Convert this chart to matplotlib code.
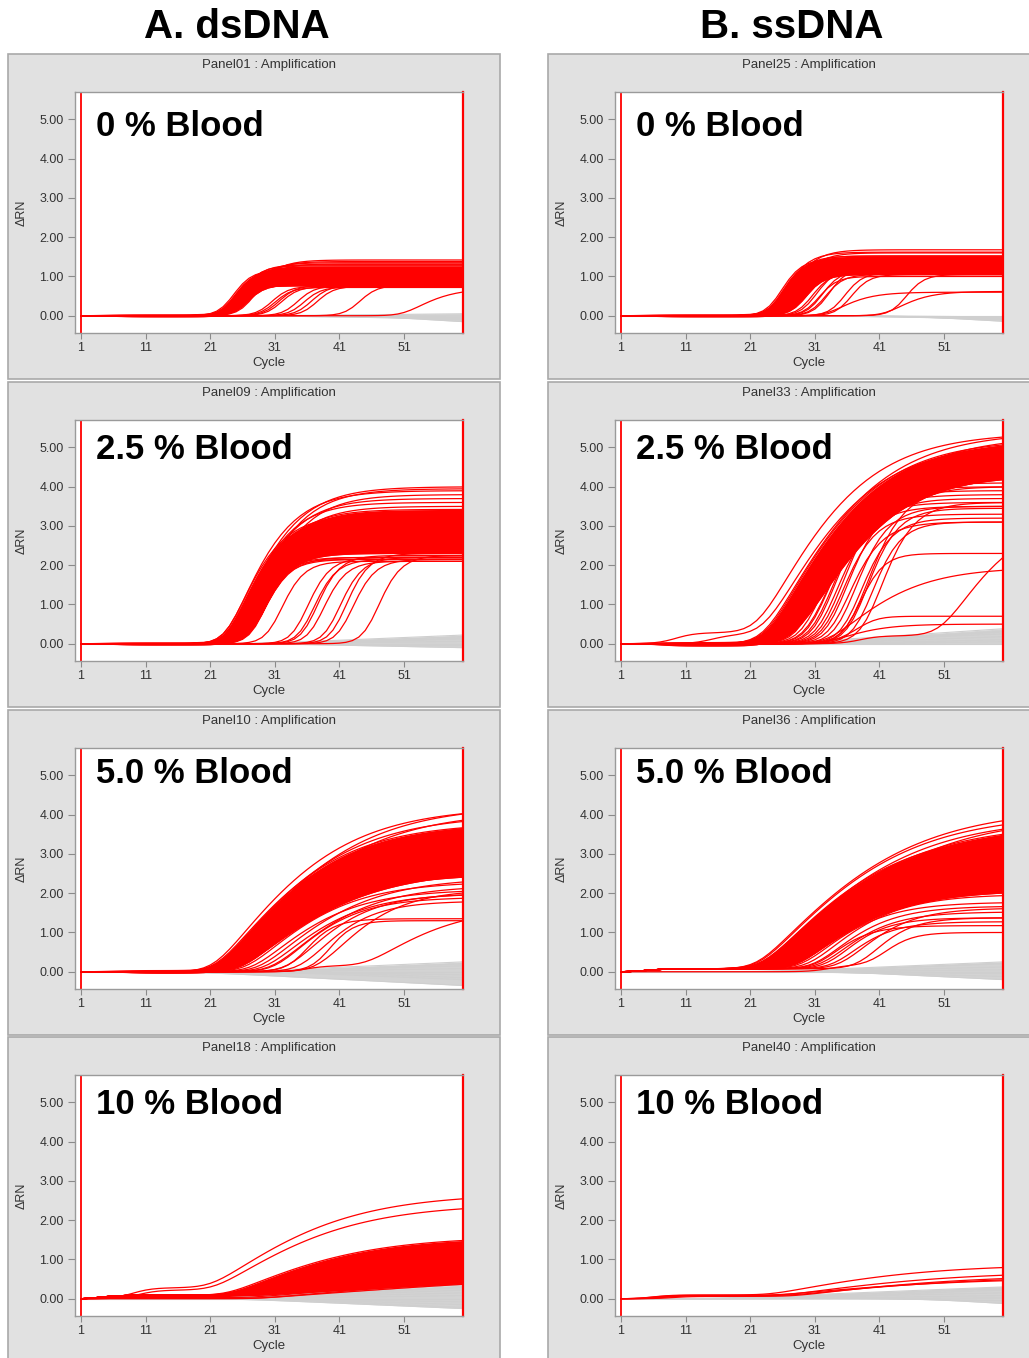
import numpy as np
import matplotlib
matplotlib.use('Agg')
import matplotlib.pyplot as plt
from matplotlib.patches import Rectangle

plt.rcParams['font.family'] = ['Liberation Sans', 'DejaVu Sans']

#---------------------------------------DATA----------------------------------------#

CYCLES = np.arange(1, 61)
X_TICKS = [1, 11, 21, 31, 41, 51]
Y_TICKS = [0, 1, 2, 3, 4, 5]

COLUMN_TITLES = ['A. dsDNA', 'B. ssDNA']
BLOOD_LABELS = ['0 % Blood', '2.5 % Blood', '5.0 % Blood', '10 % Blood']
PANEL_NAMES = [['Panel01', 'Panel09', 'Panel10', 'Panel18'],
               ['Panel25', 'Panel33', 'Panel36', 'Panel40']]

# amplified wells: (onset cycle, plateau dRn, rise scale) or
# (onset cycle, plateau dRn, rise scale, early baseline step, step cycle)
# *_BAND = the dense bundle, *_SPARSE = single visible curves
# non amplified wells: (cycle where drift starts, dRn at cycle 60)

DS_00_BAND = [(23.5, 1.15, 3.0), (23.8, 1.05, 2.8), (24.0, 1.20, 3.2), (24.0, 0.95, 2.8),
              (24.3, 1.10, 3.0), (24.5, 1.25, 3.4, 0.025, 5), (24.5, 0.85, 2.6), (24.8, 1.00, 3.0),
              (25.0, 1.18, 3.2), (25.0, 0.80, 2.8, -0.03, 6), (25.2, 1.08, 3.0), (25.5, 0.92, 3.0),
              (25.5, 1.22, 3.4), (25.8, 0.78, 2.8), (26.0, 1.02, 3.2), (26.0, 0.88, 3.0),
              (24.6, 0.76, 2.6), (25.3, 0.98, 3.0)]
DS_00_SPARSE = [(24.2, 1.30, 3.8), (25.0, 1.35, 4.2), (25.5, 1.38, 4.4), (25.8, 1.42, 4.6),
                (26.5, 1.32, 4.0), (29.5, 0.75, 2.8), (30.0, 0.72, 2.8), (30.5, 0.78, 3.0),
                (31.0, 0.74, 2.8), (33.5, 0.76, 2.8), (34.5, 0.73, 2.8), (35.5, 0.78, 3.0),
                (36.5, 0.75, 2.8), (43.0, 0.78, 3.0), (51.0, 0.70, 7.0)]
DS_00_GRAY = [(30, 0.05), (32, 0.02), (30, -0.03), (35, -0.06), (28, -0.08), (40, -0.10), (45, -0.15)]

SS_00_BAND = [(24.5, 1.45, 3.5), (24.8, 1.35, 3.5), (25.0, 1.52, 3.9), (25.3, 1.25, 3.5),
              (25.5, 1.50, 3.9, 0.025, 5), (25.7, 1.40, 3.7), (26.0, 1.30, 3.7), (26.3, 1.15, 3.5),
              (26.5, 1.45, 3.9), (26.7, 1.20, 3.7), (27.0, 1.35, 3.9), (27.3, 1.10, 3.5),
              (27.5, 1.25, 3.7, -0.03, 6), (27.7, 1.50, 4.1), (28.0, 1.05, 3.5), (28.3, 1.15, 3.7),
              (24.7, 1.20, 3.3), (25.5, 1.08, 3.3)]
SS_00_SPARSE = [(24.8, 1.62, 4.3), (25.6, 1.68, 4.5), (26.5, 1.60, 4.1), (29.5, 1.10, 3.0),
                (30.0, 1.20, 3.2), (30.5, 1.00, 3.0), (31.0, 1.15, 3.0), (31.5, 1.05, 3.0),
                (32.0, 1.25, 3.2), (34.5, 1.10, 3.0), (35.5, 1.05, 3.0), (44.0, 1.05, 3.0),
                (33.0, 0.60, 6.0), (42.0, 0.62, 6.0)]
SS_00_GRAY = [(35, 0.0), (30, -0.05), (40, -0.10), (45, -0.14), (32, -0.08), (38, -0.03)]

DS_25_BAND = [(23.5, 3.3, 8.0), (23.8, 3.0, 7.5), (24.0, 2.6, 6.5), (24.3, 3.2, 8.0),
              (24.5, 3.4, 8.5, 0.025, 5), (24.8, 2.8, 7.0), (25.0, 3.1, 7.5), (25.3, 2.6, 6.5),
              (25.5, 3.3, 8.0), (25.8, 2.9, 7.0, -0.035, 6), (26.0, 2.4, 6.0), (26.3, 2.7, 6.5),
              (26.5, 3.2, 7.5), (26.8, 2.5, 6.0), (27.0, 3.0, 7.0), (27.3, 2.3, 5.5),
              (27.5, 2.8, 6.5), (25.6, 3.0, 7.0)]
DS_25_SPARSE = [(23.5, 3.9, 9.5), (24.0, 4.0, 10.0), (24.5, 3.7, 9.0), (25.0, 3.95, 9.5),
                (25.5, 3.5, 8.5), (26.0, 3.8, 9.0), (24.3, 3.6, 8.5), (27.5, 2.2, 5.0),
                (26.5, 2.2, 5.0), (27.0, 2.15, 5.0), (28.0, 2.15, 4.0), (30.5, 2.10, 4.0),
                (34.5, 2.20, 4.0), (35.5, 2.15, 4.0), (36.0, 2.25, 4.0), (37.0, 2.10, 4.0),
                (39.5, 2.20, 4.0), (40.5, 2.30, 4.0), (41.5, 2.15, 4.0), (45.5, 2.25, 4.0)]
DS_25_GRAY = [(28, 0.22), (30, 0.18), (32, 0.12), (30, 0.06), (35, 0.0), (33, -0.05), (30, -0.10), (38, 0.15)]

SS_25_BAND = [(23.3, 5.2, 17), (23.5, 5.0, 16.5), (23.8, 5.1, 17.5), (24.0, 4.9, 16),
              (24.2, 5.1, 17, 0.03, 5), (24.5, 4.8, 16), (24.8, 5.2, 17.5), (25.0, 4.7, 16),
              (25.2, 5.0, 17), (25.5, 4.6, 16), (25.8, 4.9, 17, -0.06, 7), (26.0, 4.5, 16),
              (26.3, 4.8, 17), (26.5, 4.4, 16), (26.8, 4.7, 17), (27.0, 4.35, 16.5),
              (27.5, 4.5, 17), (26.2, 4.3, 16), (24.7, 4.4, 15.5), (23.6, 4.6, 15.5)]
SS_25_SPARSE = [(23.0, 5.4, 18), (24.4, 5.3, 18), (25.3, 5.25, 18),
                (22.0, 5.1, 17, 0.28, 9.5), (23.0, 4.9, 17, 0.22, 15),
                (28.5, 4.2, 9), (29.0, 4.0, 8), (29.5, 3.8, 8), (30.0, 4.5, 10),
                (30.5, 3.6, 7), (31.0, 4.1, 8), (31.5, 3.9, 7), (32.0, 3.5, 6.5),
                (32.5, 4.3, 8), (33.0, 3.3, 6), (33.5, 3.7, 6.5), (34.0, 3.1, 6),
                (35.0, 3.5, 6), (36.0, 3.2, 5.5), (36.5, 4.0, 7), (37.0, 3.45, 5.5),
                (38.0, 3.1, 5), (39.0, 3.6, 6), (36.5, 2.3, 4.0), (33.0, 1.95, 14.0),
                (50.5, 3.0, 12.0, 0.2, 38), (37.0, 0.5, 3.0, 0.2, 35), (33.0, 0.5, 8.0)]
SS_25_GRAY = [(25, 0.38), (28, 0.32), (26, 0.25), (30, 0.18), (30, 0.10), (35, 0.05), (30, 0.0), (32, 0.30)]

DS_50_BAND = [(21.8, 3.8, 19), (22.0, 3.7, 19.5), (22.2, 3.6, 19), (22.5, 3.8, 19.5),
              (22.8, 3.5, 18.5), (23.0, 3.7, 20, 0.03, 6), (23.2, 3.4, 19), (23.5, 3.6, 20),
              (23.8, 3.2, 19), (24.0, 3.5, 20, -0.04, 8), (24.2, 3.0, 19), (24.5, 3.3, 20),
              (24.8, 2.9, 19.5), (25.0, 3.1, 20), (25.3, 2.7, 19.5), (25.5, 2.6, 20),
              (23.7, 2.8, 17), (22.4, 3.0, 16), (24.3, 2.5, 18), (25.8, 2.8, 20)]
DS_50_SPARSE = [(21.5, 4.2, 20), (22.6, 4.25, 21), (23.4, 4.1, 21), (22.0, 4.0, 20),
                (24.6, 3.9, 21), (26.5, 2.3, 16), (27.5, 2.1, 15), (28.5, 2.4, 17),
                (29.5, 2.0, 14), (30.5, 2.2, 15), (31.0, 1.9, 12), (33.0, 2.0, 12),
                (34.0, 1.35, 5), (35.0, 1.8, 10), (38.0, 1.3, 4), (37.5, 2.1, 12),
                (45.0, 1.5, 15, 0.15, 36)]
DS_50_GRAY = [(25, 0.25), (30, 0.20), (28, 0.15), (30, 0.08), (30, 0.0), (33, -0.08),
              (35, -0.15), (30, -0.20), (18, -0.35)]

SS_50_BAND = [(22.6, 3.7, 23), (23.0, 3.6, 22), (23.3, 3.5, 22), (23.6, 3.4, 21.5),
              (24.0, 3.7, 23), (24.3, 3.3, 21), (24.6, 3.5, 22), (25.0, 3.2, 21),
              (25.3, 3.3, 22), (25.6, 3.0, 20), (26.0, 2.9, 20), (26.3, 2.7, 19),
              (26.6, 2.5, 18), (23.2, 3.2, 20), (24.8, 2.8, 19), (22.8, 3.55, 21),
              (25.8, 3.6, 23), (23.8, 2.9, 19), (26.8, 3.1, 21), (27.0, 2.3, 17),
              (27.5, 2.1, 17), (28.0, 2.0, 16)]
SS_50_SPARSE = [(22.0, 4.1, 24), (22.3, 3.95, 23), (24.4, 3.9, 24), (23.0, 3.85, 23),
                (27.5, 2.2, 16), (28.5, 2.0, 14), (29.0, 1.7, 12), (30.0, 1.9, 13),
                (31.0, 1.6, 11), (32.0, 1.45, 10), (33.0, 1.3, 8), (34.0, 1.2, 8),
                (35.0, 1.55, 10), (31.5, 1.1, 7), (38.0, 1.3, 7), (40.0, 0.85, 5, 0.15, 33)]
SS_50_GRAY = [(24, 0.25), (26, 0.20), (28, 0.12), (30, 0.05), (30, 0.0), (33, -0.05),
              (30, -0.12), (35, -0.20), (28, 0.22)]

DS_10_BAND = [(23.5, 1.5, 22), (24.0, 1.45, 23), (24.5, 1.4, 24), (25.0, 1.35, 25),
              (25.5, 1.3, 26), (26.0, 1.25, 27), (26.5, 1.2, 28), (27.0, 1.15, 30),
              (27.5, 1.1, 32), (28.0, 1.05, 34), (28.5, 1.0, 36), (29.0, 0.95, 38),
              (29.5, 0.9, 40), (30.0, 0.85, 42), (24.2, 1.3, 22), (25.2, 1.2, 24),
              (26.2, 1.1, 26), (27.2, 1.0, 28), (28.2, 0.9, 30), (29.2, 0.8, 33),
              (23.8, 1.0, 20), (25.8, 1.45, 28), (27.8, 1.35, 32), (30.5, 0.75, 40),
              (28.0, 0.75, 60, 0.0, 1), (29.0, 0.8, 55, 0.02, 1), (27.0, 0.7, 50, 0.04, 2)]
DS_10_SPARSE = [(21.0, 2.4, 22, 0.28, 9), (21.5, 2.2, 22, 0.22, 10)]
DS_10_GRAY = [(22, 0.35), (24, 0.30), (25, 0.22), (25, 0.15), (27, 0.08), (28, 0.0),
              (28, -0.08), (30, -0.15), (30, -0.22), (25, -0.25), (26, 0.28)]

SS_10_BAND = []
SS_10_SPARSE = [(24.0, 0.78, 25, 0.10, 6), (26.0, 0.62, 28, 0.08, 7), (27.0, 0.50, 30, 0.08, 8),
                (27.5, 0.55, 28, 0.06, 9), (25.0, 0.45, 30, 0.09, 6)]
SS_10_GRAY = [(15, 0.30), (20, 0.28), (25, 0.22), (20, 0.15), (25, 0.08), (30, 0.02),
              (40, -0.05), (48, -0.12), (18, 0.25)]

# column, row, dense band, single curves, non amplified, shared baseline step, onset smoothing
PANELS = [
    (0, 0, DS_00_BAND, DS_00_SPARSE, DS_00_GRAY, (0.0, 1), 1.2),
    (0, 1, DS_25_BAND, DS_25_SPARSE, DS_25_GRAY, (0.0, 1), 1.2),
    (0, 2, DS_50_BAND, DS_50_SPARSE, DS_50_GRAY, (0.0, 1), 1.5),
    (0, 3, DS_10_BAND, DS_10_SPARSE, DS_10_GRAY, (0.1, 4), 1.5),
    (1, 0, SS_00_BAND, SS_00_SPARSE, SS_00_GRAY, (0.0, 1), 1.2),
    (1, 1, SS_25_BAND, SS_25_SPARSE, SS_25_GRAY, (0.0, 1), 1.5),
    (1, 2, SS_50_BAND, SS_50_SPARSE, SS_50_GRAY, (0.08, 5), 1.5),
    (1, 3, SS_10_BAND, SS_10_SPARSE, SS_10_GRAY, (0.0, 1), 1.5),
]

#---------------------------------------CURVES----------------------------------------#

def softplus(z, k):
    return k * np.logaddexp(0, z / k)

def amp_curve(t0, plateau, tau, base, tb, k):
    y = plateau * np.tanh(softplus(CYCLES - t0, k) / tau)
    y = y + base / (1 + np.exp(-(CYCLES - tb) / 1.5))
    return y - y[0]

def build(curves, panel_base, k):
    out = []
    for c in curves:
        if len(c) == 5:
            t0, plateau, tau, b, tb = c
        else:
            t0, plateau, tau = c
            b, tb = panel_base
        out.append(amp_curve(t0, plateau, tau, b, tb, k))
    return np.array(out)

def drift_curve(start, end):
    r = softplus(CYCLES - start, 3.0)
    return end * r / r[-1]

#---------------------------------------LAYOUT----------------------------------------#

W, H = 1029, 1358
fig = plt.figure(figsize=(W / 100, H / 100), dpi=100)
fig.patch.set_facecolor('white')

def fx(px):
    return px / W

def fy(py):
    return 1 - py / H

COL_LEFT = [8, 548]
ROW_TOP = [54, 382, 710, 1037]
FRAME_W, FRAME_H = 492, 325
AX_W, AX_H = 388, 241
LABEL_DROP = [44, 39, 35, 39]   # baseline of blood label below axes top

for i, t in enumerate(COLUMN_TITLES):
    fig.text(fx([237, 792][i]), fy(38), t, fontsize=29, fontweight='bold',
             ha='center', va='baseline')

for col, row, band, sparse, gray, pbase, k in PANELS:
    x0, y0 = COL_LEFT[col], ROW_TOP[row]
    fig.add_artist(Rectangle((fx(x0), fy(y0 + FRAME_H)), FRAME_W / W, FRAME_H / H,
                             transform=fig.transFigure, facecolor='#e1e1e1',
                             edgecolor='#a9a9a9', lw=1.2, zorder=0))
    axl, axt = x0 + 67, y0 + 38
    ax = fig.add_axes([fx(axl), fy(axt + AX_H), AX_W / W, AX_H / H])
    ax.set_xlim(0.07, 60.13)
    ax.set_ylim(-0.44, 5.70)

    # non amplified wells
    gys = np.array([drift_curve(s, e) for s, e in gray])
    ax.fill_between(CYCLES, gys.min(axis=0), gys.max(axis=0), color='#d3d3d3', lw=0)
    for g in gys:
        ax.plot(CYCLES, g, color='#cfcfcf', lw=0.8)

    # amplified wells
    if len(band):
        bys = build(band, pbase, k)
        ax.fill_between(CYCLES, bys.min(axis=0), bys.max(axis=0), color='#ff0000', lw=0)
        for b in bys:
            ax.plot(CYCLES, b, color='#ff0000', lw=0.9)
    for s in build(sparse, pbase, k):
        ax.plot(CYCLES, s, color='#ff0000', lw=0.9)

    ax.axvline(1, color='#ff0000', lw=1.3)
    for side in ['left', 'top', 'bottom']:
        ax.spines[side].set_color('#9a9a9a')
        ax.spines[side].set_linewidth(1.0)
    ax.spines['right'].set_color('#ff0000')
    ax.spines['right'].set_linewidth(1.6)

    ax.set_xticks(X_TICKS)
    ax.set_yticks(Y_TICKS)
    ax.set_yticklabels(['%.2f' % v for v in Y_TICKS])
    ax.tick_params(axis='y', direction='out', length=5, width=0.8, color='#8a8a8a',
                   labelsize=9, labelcolor='#333333', pad=3)
    ax.tick_params(axis='x', direction='out', length=4.5, width=0.8, color='#8a8a8a',
                   labelsize=9, labelcolor='#333333', pad=2)

    ax.text(0.5, -33 / AX_H, 'Cycle', transform=ax.transAxes, ha='center',
            va='baseline', fontsize=9.5, color='#333333')
    fig.text(fx(x0 + 14), fy(axt + AX_H / 2), '\u0394RN', rotation=90, ha='center',
             va='center', fontsize=9, color='#333333')
    fig.text(fx(axl + AX_W / 2), fy(y0 + 14), PANEL_NAMES[col][row] + ' : Amplification',
             ha='center', va='baseline', fontsize=9.5, color='#333333')
    ax.text(0.055, 1 - LABEL_DROP[row] / AX_H, BLOOD_LABELS[row], transform=ax.transAxes,
            fontsize=25, fontweight='bold', ha='left', va='baseline')

plt.savefig('out.png', dpi=100)
